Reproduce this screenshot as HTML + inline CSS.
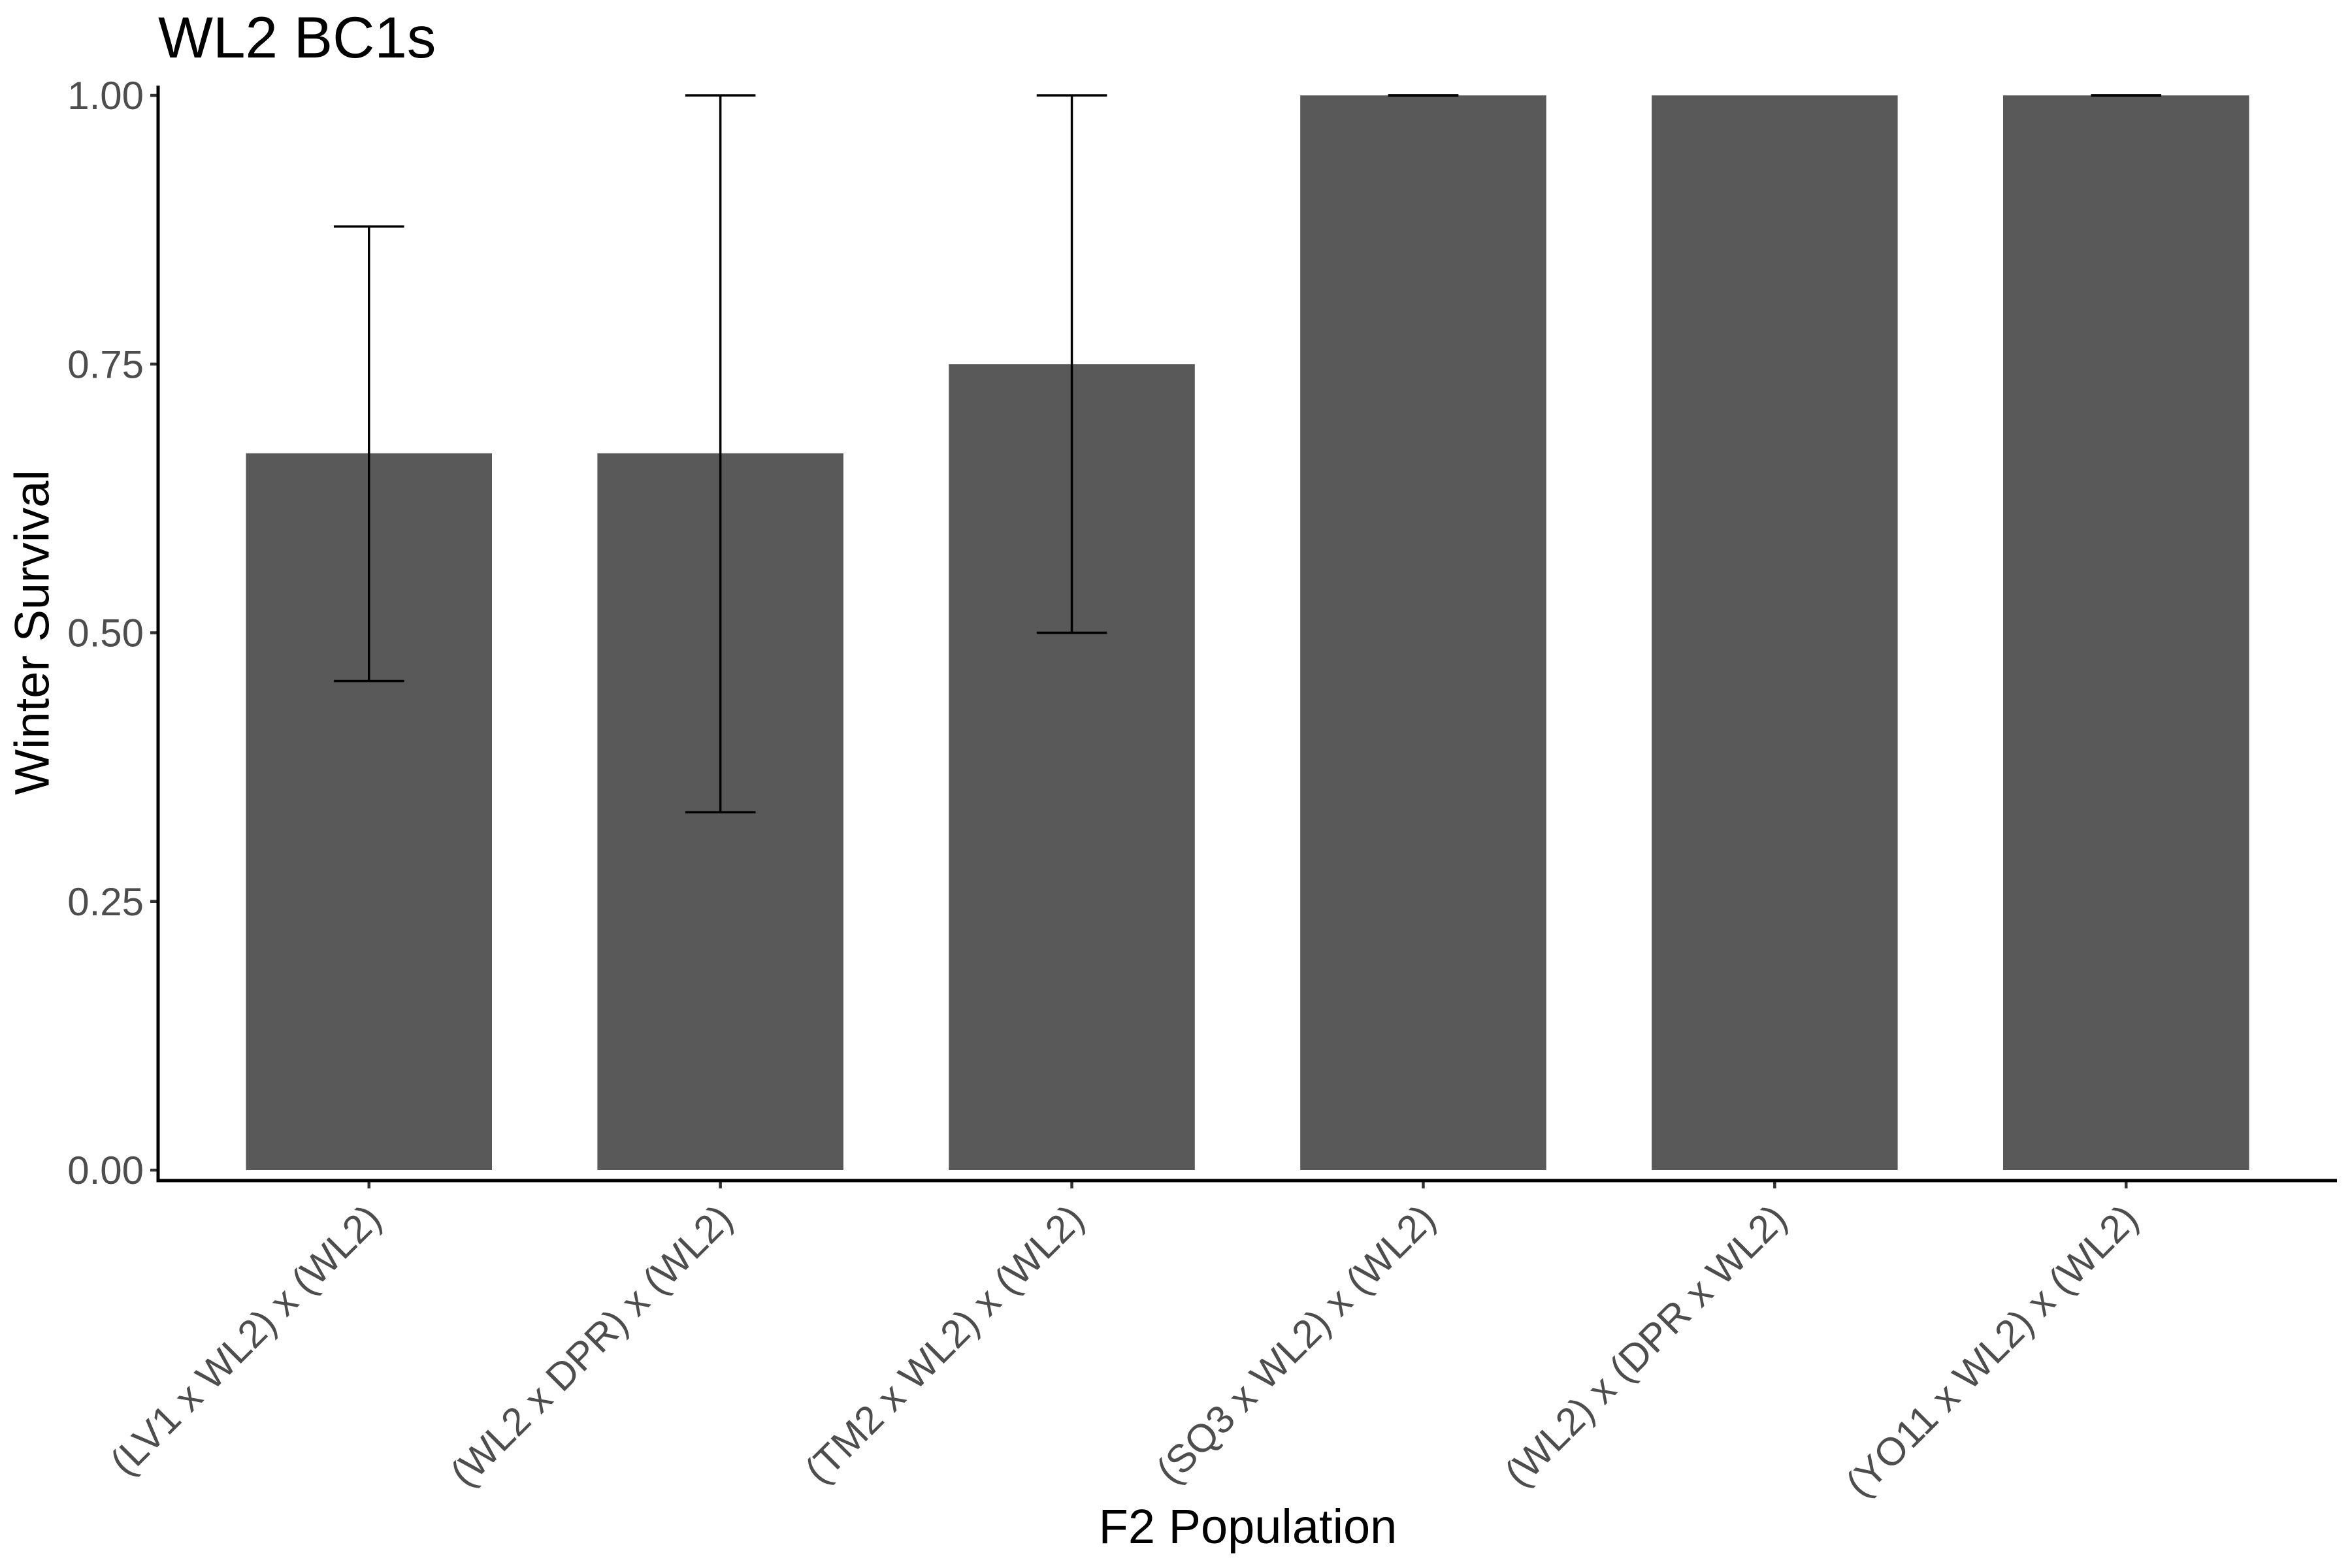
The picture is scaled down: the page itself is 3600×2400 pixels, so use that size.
<!DOCTYPE html>
<html><head><meta charset="utf-8"><style>
html,body{margin:0;padding:0;background:#fff;}
svg{display:block;font-family:"Liberation Sans",Arial,sans-serif;}
</style></head><body>
<svg id="chart" width="3600" height="2400" viewBox="0 0 3600 2400" xmlns="http://www.w3.org/2000/svg">
<rect x="0" y="0" width="3600" height="2400" fill="#fff"/>
<text x="242" y="88" font-size="89" fill="#000">WL2 BC1s</text>
<text transform="translate(55,968) rotate(-90)" text-anchor="middle" font-size="74" fill="#000" dominant-baseline="middle">Winter Survival</text>
<text x="1910" y="2362" text-anchor="middle" font-size="74" fill="#000">F2 Population</text>
<g id="plot"></g>
</svg>
<script>
const categories = ["(LV1 x WL2) x (WL2)","(WL2 x DPR) x (WL2)","(TM2 x WL2) x (WL2)","(SQ3 x WL2) x (WL2)","(WL2) x (DPR x WL2)","(YO11 x WL2) x (WL2)"];
const survival = [0.667, 0.667, 0.75, 1.0, 1.0, 1.0];
const errLow = [0.455, 0.333, 0.5, 1.0, null, 1.0];
const errHigh = [0.878, 1.0, 1.0, 1.0, null, 1.0];
const yTicks = [0, 0.25, 0.5, 0.75, 1.0];
const yTickLabels = ["0.00","0.25","0.50","0.75","1.00"];

const NS = "http://www.w3.org/2000/svg";
const g = document.getElementById("plot");
const left = 242, right = 3577, y0px = 1791, y1px = 146, axisY = 1807;
const step = (right - left) / (categories.length + 0.2);
function xPos(i){ return left + step * (0.6 + i); }
function yPos(v){ return y0px + (y1px - y0px) * v; }
function mk(tag, attrs){ const e = document.createElementNS(NS, tag); for (const k in attrs) e.setAttribute(k, attrs[k]); g.appendChild(e); return e; }

categories.forEach((c, i) => {
  const cx = xPos(i), w = step * 0.7;
  const b = mk("rect", {x: cx - w/2, y: yPos(survival[i]), width: w, height: yPos(0) - yPos(survival[i]), fill: "#595959"});
  
  
  if (errLow[i] !== null) {
    const cw = step * 0.1;
    const eg = document.createElementNS(NS, "g");
    
    
    g.appendChild(eg);
    const lines = [[cx, yPos(errLow[i]), cx, yPos(errHigh[i])],[cx-cw, yPos(errLow[i]), cx+cw, yPos(errLow[i])],[cx-cw, yPos(errHigh[i]), cx+cw, yPos(errHigh[i])]];
    lines.forEach(l => { const e = document.createElementNS(NS, "line"); e.setAttribute("x1", l[0]); e.setAttribute("y1", l[1]); e.setAttribute("x2", l[2]); e.setAttribute("y2", l[3]); e.setAttribute("stroke", "#000"); e.setAttribute("stroke-width", "3.5"); eg.appendChild(e); });
  }
  const t = mk("line", {x1: cx, y1: axisY, x2: cx, y2: axisY + 12, stroke: "#333", "stroke-width": "4.5"});
  
  
  const lbl = mk("text", {transform: "translate(" + (cx + 22) + "," + (axisY + 62) + ") rotate(-45)", "text-anchor": "end", "font-size": "60", fill: "#4d4d4d"});
  lbl.textContent = c;
  
  
});

yTicks.forEach((v, i) => {
  const t = mk("line", {x1: left - 12, y1: yPos(v), x2: left, y2: yPos(v), stroke: "#333", "stroke-width": "4.5"});
  
  
  const lbl = mk("text", {x: left - 22, y: yPos(v) + 21, "text-anchor": "end", "font-size": "60", fill: "#4d4d4d"});
  lbl.textContent = yTickLabels[i];
  
  
});

const ya = mk("line", {x1: left, y1: 131, x2: left, y2: axisY + 2.5, stroke: "#000", "stroke-width": "5"});


const xa = mk("line", {x1: left - 2.5, y1: axisY, x2: right, y2: axisY, stroke: "#000", "stroke-width": "5"});


</script>
</body></html>
